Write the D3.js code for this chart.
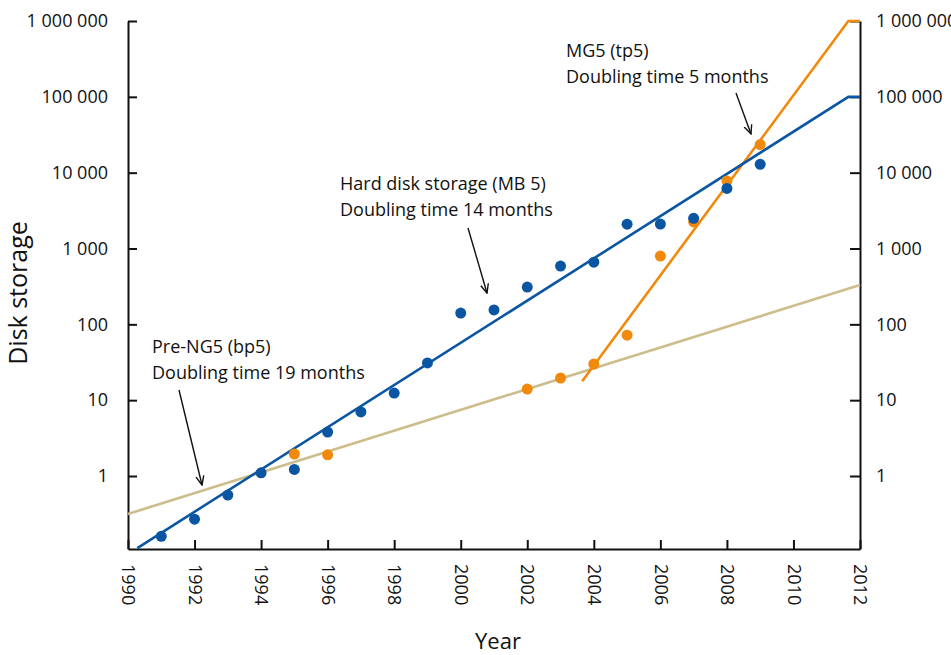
<!DOCTYPE html>
<html>
<head>
<meta charset="utf-8">
<script src="https://cdn.jsdelivr.net/npm/d3@7"></script>
<style>
  body { margin: 0; background: #fff; }
  svg { display: block; font-family: "Open Sans", sans-serif; }
  .axis path, .axis line { stroke: #111; stroke-width: 2; }
  .axis text { fill: #111; font-size: 18px; font-family: "Open Sans", sans-serif; }
</style>
</head>
<body>
<div id="chart"></div>
<script>
// Hard disk storage (blue dots)
const hddYears = [1991, 1992, 1993, 1994, 1995, 1996, 1997, 1998, 1999, 2000, 2001, 2002, 2003, 2004, 2005, 2006, 2007, 2008, 2009];
const hddValues = [0.16, 0.27, 0.56, 1.1, 1.22, 3.8, 7.0, 12.4, 31, 141, 155, 310, 586, 660, 2090, 2100, 2500, 6200, 12900];

// Sequencing output (orange dots)
const seqYears = [1995, 1996, 2002, 2003, 2004, 2005, 2006, 2007, 2008, 2009];
const seqValues = [1.95, 1.9, 14, 19.6, 30, 72, 795, 2240, 7770, 23500];

// Fitted trend lines [year, value]
const hddFit = [[1990.28, 0.112], [2011.65, 100000], [2012, 100000]];
const mg5Fit = [[2003.65, 17.8], [2011.65, 1000000], [2012, 1000000]];
const preNg5Fit = [[1990, 0.316], [2012, 330]];

const yTicks = [1, 10, 100, 1000, 10000, 100000, 1000000];
const xTicks = [1990, 1992, 1994, 1996, 1998, 2000, 2002, 2004, 2006, 2008, 2010, 2012];

// Annotations
const notes = [
    { lines: ['Pre-NG5 (bp5)', 'Doubling time 19 months'], x: 152, y: 353, arrow: [179, 390, 202, 485] },
    { lines: ['Hard disk storage (MB 5)', 'Doubling time 14 months'], x: 340, y: 190, arrow: [468, 228, 487, 293] },
    { lines: ['MG5 (tp5)', 'Doubling time 5 months'], x: 566, y: 57, arrow: [736, 93, 751, 134] }
];

const width = 951, height = 655;
const blue = '#0a56a2', orange = '#f0890c', tan = '#cdbd8c';

const svg = d3.select('#chart').append('svg')
    .attr('width', width)
    .attr('height', height);

const x = d3.scaleLinear().domain([1990, 2012]).range([128, 860]);
const y = d3.scaleLog().domain([0.109, 1e6]).range([549, 21]);

const fmt = d3.formatLocale({ decimal: '.', thousands: ' ', grouping: [3], currency: ['', ''] }).format(',d');

// Arrow marker
svg.append('defs').append('marker')
    .attr('id', 'arrow')
    .attr('viewBox', '0 0 10 10')
    .attr('refX', 9).attr('refY', 5)
    .attr('markerWidth', 10).attr('markerHeight', 10)
    .attr('markerUnits', 'userSpaceOnUse')
    .attr('orient', 'auto')
    .append('path')
    .attr('d', 'M0,1 L9,5 L0,9')
    .attr('fill', 'none')
    .attr('stroke', '#111')
    .attr('stroke-width', 1.4);

// Axes
svg.append('g')
    .attr('class', 'axis')
    .attr('transform', 'translate(128,0)')
    .call(d3.axisLeft(y).tickValues(yTicks).tickFormat(fmt).tickSize(-9).tickSizeOuter(0).tickPadding(20));

svg.append('g')
    .attr('class', 'axis')
    .attr('transform', 'translate(860,0)')
    .call(d3.axisRight(y).tickValues(yTicks).tickFormat(fmt).tickSize(-10).tickSizeOuter(0).tickPadding(16));

const xAxis = svg.append('g')
    .attr('class', 'axis')
    .attr('transform', 'translate(0,549)')
    .call(d3.axisBottom(x).tickValues(xTicks).tickFormat(d3.format('d')).tickSize(-9).tickSizeOuter(0));

xAxis.selectAll('text')
    .attr('transform', 'rotate(90)')
    .attr('x', 15)
    .attr('y', 0)
    .attr('dy', '0.35em')
    .attr('text-anchor', 'start');

// Axis titles
svg.append('text')
    .attr('transform', 'translate(27,293) rotate(-90)')
    .attr('text-anchor', 'middle')
    .attr('font-size', '25px')
    .attr('fill', '#111')
    .text('Disk storage');

svg.append('text')
    .attr('x', 498)
    .attr('y', 649)
    .attr('text-anchor', 'middle')
    .attr('font-size', '22px')
    .attr('fill', '#111')
    .text('Year');

// Trend lines
const line = d3.line().x(d => x(d[0])).y(d => y(d[1]));

[[preNg5Fit, tan], [mg5Fit, orange], [hddFit, blue]].forEach(([pts, color]) => {
    svg.append('path')
        .datum(pts)
        .attr('d', line)
        .attr('fill', 'none')
        .attr('stroke', color)
        .attr('stroke-width', 2.6);
});

// Dots
svg.append('g').selectAll('circle')
    .data(seqYears)
    .enter()
    .append('circle')
    .attr('cx', d => x(d))
    .attr('cy', (d, i) => y(seqValues[i]))
    .attr('r', 5.5)
    .attr('fill', orange);

svg.append('g').selectAll('circle')
    .data(hddYears)
    .enter()
    .append('circle')
    .attr('cx', d => x(d))
    .attr('cy', (d, i) => y(hddValues[i]))
    .attr('r', 5.5)
    .attr('fill', blue);

// Annotations
notes.forEach(n => {
    const t = svg.append('text')
        .attr('font-size', '18px')
        .attr('fill', '#111');
    n.lines.forEach((s, i) => {
        t.append('tspan')
            .attr('x', n.x)
            .attr('y', n.y + i * 26)
            .text(s);
    });
    svg.append('line')
        .attr('x1', n.arrow[0]).attr('y1', n.arrow[1])
        .attr('x2', n.arrow[2]).attr('y2', n.arrow[3])
        .attr('stroke', '#111')
        .attr('stroke-width', 1.4)
        .attr('marker-end', 'url(#arrow)');
});
</script>
</body>
</html>
